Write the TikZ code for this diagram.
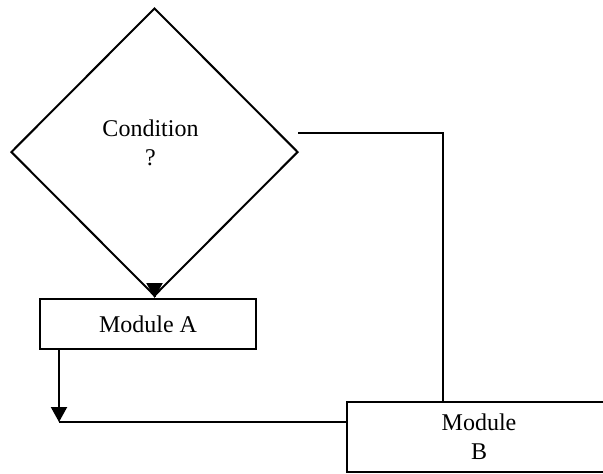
\documentclass[tikz,border=0pt]{standalone}
\usepackage{fontspec}
\setmainfont{Liberation Serif}
\usetikzlibrary{shapes.geometric,arrows.meta}
\tikzset{
  every node/.style={font=\fontsize{12pt}{14.5pt}\selectfont},
  flow/.style={line width=1pt, draw=black},
  decision/.style={flow, diamond, inner sep=0pt, minimum width=143.5pt, minimum height=144pt},
  module/.style={flow, rectangle, inner sep=0pt, align=center},
  arrowline/.style={flow, -{Triangle[length=7.5pt,width=8pt]}},
  caption/.style={align=center, inner sep=0pt}
}
\begin{document}
\begin{tikzpicture}[x=0.5pt, y=-0.5pt]
  \useasboundingbox[fill=white] (0,0) rectangle (603,473);
  % decision diamond and its text
  \node[decision] (cond) at (154.5,152) {};
  \node[caption] (condtext) at (150.5,143) {Condition\\?};
  % process boxes
  \node[module, minimum width=108pt, minimum height=25pt] (modA) at (148,324) {Module A};
  \node[module, minimum width=132pt, minimum height=35pt] (modB) at (479,437) {Module\\B};
  % helper points for the routed connectors
  \coordinate (c1) at (298,133);
  \coordinate (bx) at (443,133);
  \coordinate (j) at (59,422);
  % connectors
  \draw[arrowline] (cond.south) -- (cond.south |- modA.north);
  \draw[flow] (c1) -- (bx) -- (bx |- modB.north);
  \draw[arrowline] (j |- modA.south) -- (j);
  \draw[flow] (j) -- (j -| modB.west);
\end{tikzpicture}
\end{document}
